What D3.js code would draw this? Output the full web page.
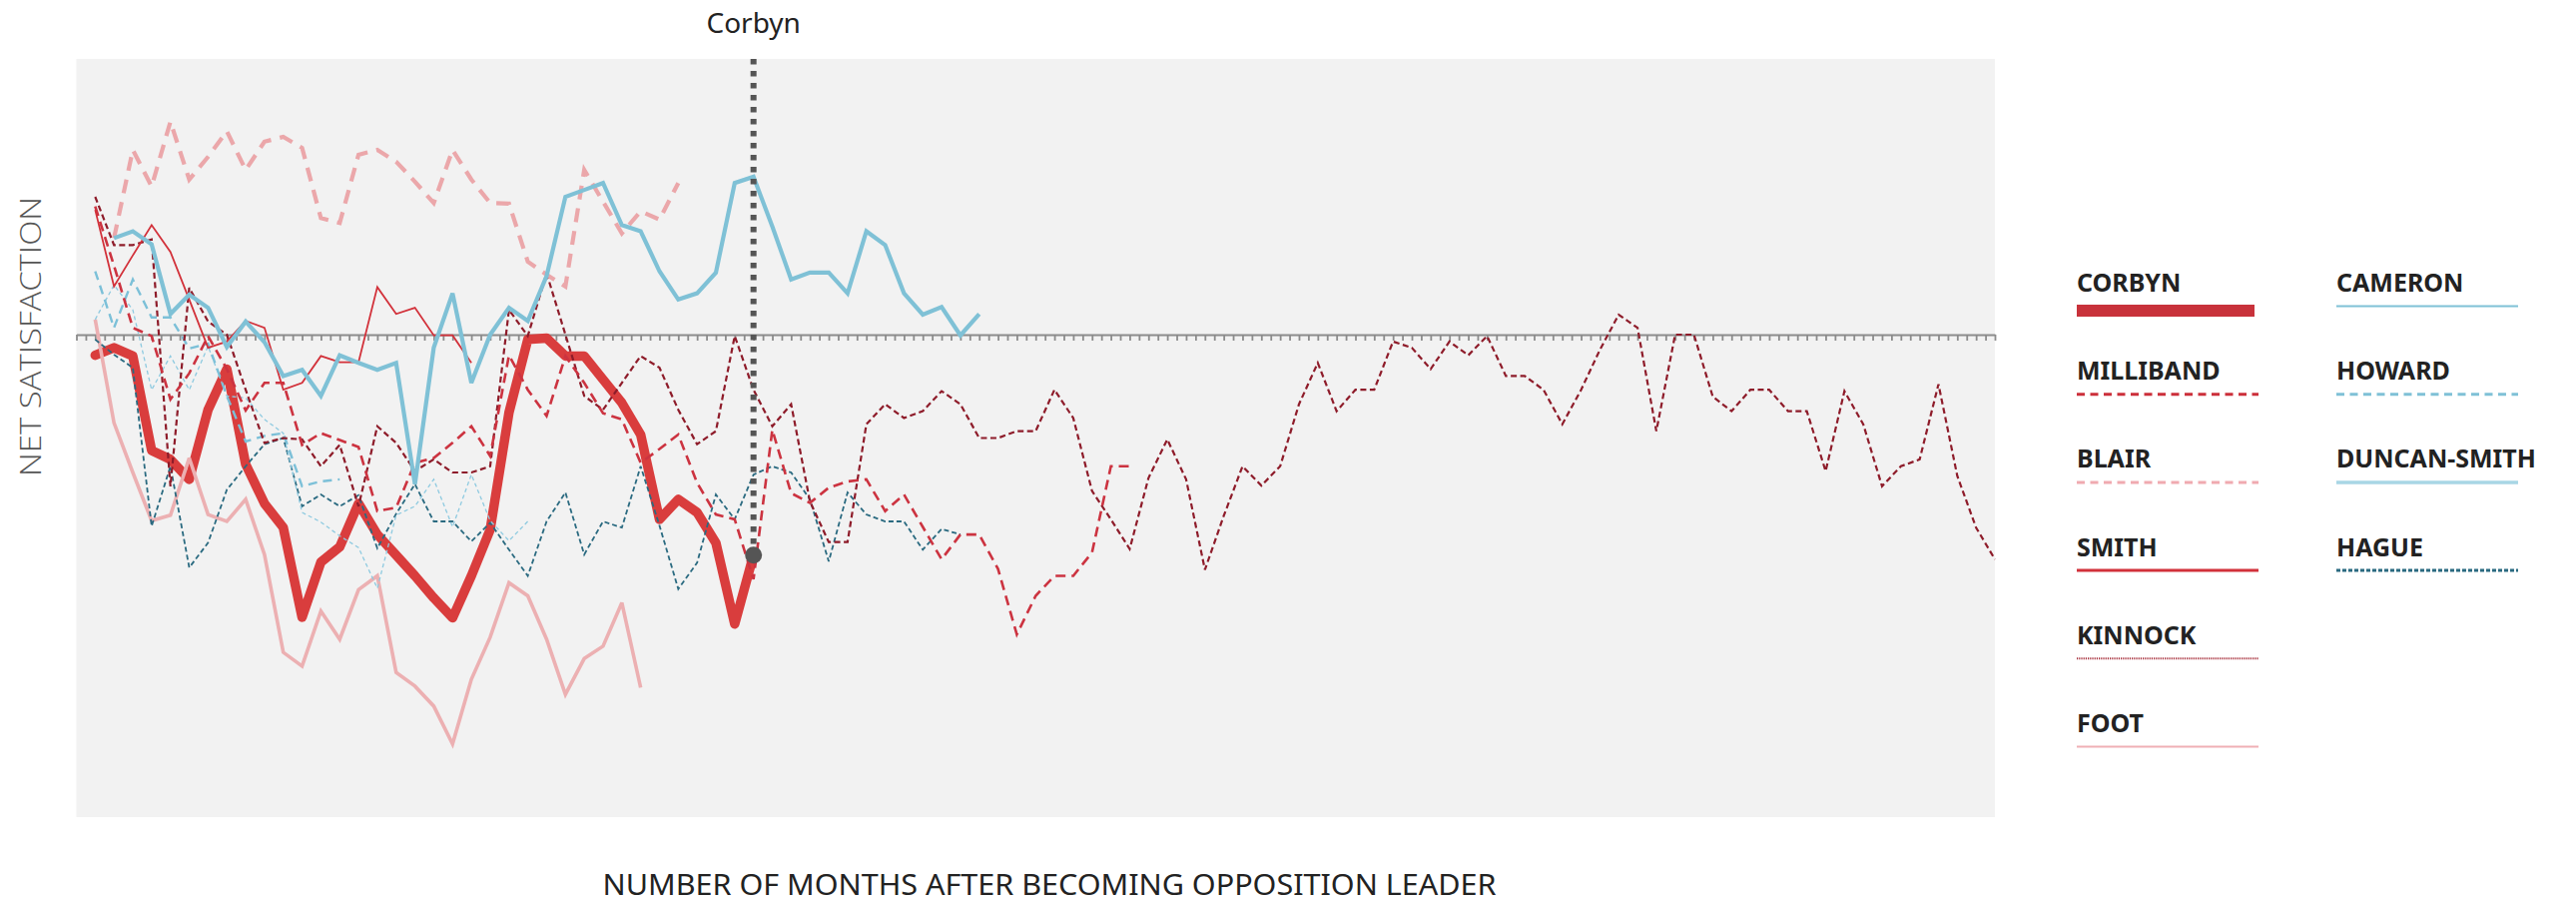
<!DOCTYPE html>
<html>
<head>
<meta charset="utf-8">
<script src="https://cdn.jsdelivr.net/npm/d3@7"></script>
<style>
  html, body { margin: 0; padding: 0; background: #ffffff; }
  svg { display: block; }
</style>
</head>
<body>
<svg id="chart" width="2580" height="906"></svg>
<script>
// ---------------- DATA ----------------
const leaders = ["CORBYN", "MILLIBAND", "BLAIR", "SMITH", "KINNOCK", "FOOT",
                 "CAMERON", "HOWARD", "DUNCAN-SMITH", "HAGUE"];

// first month index of each series (months after becoming opposition leader)
const startMonths = [0, 0, 1, 0, 0, 0, 1, 0, 0, 0];

const corbyn = [-3.0, -1.9, -3.1, -16.8, -18.1, -21.0, -10.9, -5.0, -18.8, -24.5,
  -28.0, -41.0, -33.0, -30.8, -24.5, -29.0, -32.0, -35.0, -38.2, -41.1,
  -35.0, -28.3, -11.3, -0.7, -0.5, -3.1, -3.1, -6.5, -9.9, -14.5,
  -26.8, -23.9, -25.8, -30.2, -42.0, -32.0];

const milliband = [18.6, 10.0, 1.0, -0.2, -9.4, -5.6, -0.2, -5.0, -11.0, -7.0,
  -7.0, -16.0, -14.3, -15.3, -16.3, -25.6, -25.1, -18.6, -17.9, -15.7,
  -13.3, -17.6, -3.0, -8.0, -11.8, -3.1, -7.0, -11.4, -12.3, -18.6,
  -16.6, -14.5, -21.5, -26.1, -26.8, -35.5, -13.8, -23.0, -24.4, -22.2,
  -21.3, -21.0, -25.6, -23.2, -27.9, -32.6, -29.0, -29.0, -34.0, -43.5,
  -37.9, -35.0, -35.0, -31.6, -19.1, -19.1];

const blair = [14.0, 26.8, 21.5, 30.9, 22.5, 25.8, 29.5, 23.9, 28.0, 28.7,
  27.1, 16.9, 16.2, 26.1, 26.8, 25.1, 22.2, 19.1, 26.8, 22.5,
  19.1, 19.0, 10.6, 8.7, 7.0, 23.9, 19.3, 14.7, 17.9, 16.7, 22.0];

const smith = [18.1, 7.0, 11.5, 15.9, 12.0, 5.1, -1.9, -1.0, 2.0, 1.0,
  -8.0, -7.0, -3.1, -4.0, -4.0, 6.9, 3.0, 3.9, -0.1, -0.1, -4.1];

const kinnock = [20.0, 13.0, 13.0, 13.8, -22.0, 6.8, 1.9, 0.0, -8.0, -15.7,
  -15.0, -15.2, -19.1, -16.0, -24.9, -13.3, -15.7, -19.8, -18.1, -20.0,
  -20.0, -19.1, 3.6, -0.2, 8.9, 0.0, -8.9, -10.9, -7.0, -3.1,
  -4.8, -10.9, -15.9, -14.0, -0.2, -8.0, -13.3, -10.1, -24.2, -30.1,
  -30.1, -13.0, -10.1, -12.1, -11.1, -8.2, -10.1, -15.0, -15.0, -14.0,
  -14.0, -8.0, -12.1, -22.7, -26.8, -31.1, -20.8, -15.2, -21.0, -34.1,
  -26.3, -19.1, -21.9, -19.1, -10.1, -4.1, -11.1, -8.0, -8.0, -1.0,
  -1.9, -5.0, -1.0, -3.0, -0.2, -6.0, -6.0, -8.0, -13.0, -8.0,
  -2.2, 2.9, 1.0, -14.0, 0.0, 0.0, -9.0, -11.1, -8.0, -8.0,
  -11.1, -11.1, -19.8, -8.2, -13.0, -22.0, -19.1, -18.1, -7.2, -20.5,
  -28.0, -32.6];

const foot = [2.2, -12.8, -20.0, -27.0, -26.2, -17.9, -26.1, -27.1, -23.9, -31.9,
  -46.1, -48.1, -40.1, -44.2, -37.0, -35.0, -49.0, -51.0, -53.9, -59.4,
  -50.0, -43.9, -36.0, -37.9, -44.2, -52.2, -47.0, -45.2, -38.9, -51.2];

const cameron = [14.0, 15.0, 13.1, 3.0, 5.8, 3.9, -1.8, 1.9, -1.1, -6.0,
  -5.1, -8.9, -3.0, -4.1, -5.1, -4.1, -21.7, -1.9, 6.0, -7.0,
  0.0, 3.9, 2.0, 8.5, 20.0, 21.0, 22.0, 15.9, 15.0, 9.2,
  5.1, 6.0, 9.0, 22.0, 22.9, 15.7, 8.0, 9.0, 9.0, 6.0,
  15.0, 13.0, 6.0, 2.9, 4.0, -0.1, 3.0];

const howard = [9.2, 1.0, 8.0, 2.5, 2.5, -2.0, -1.3, -8.9, -15.5, -14.7,
  -14.3, -22.0, -21.3, -21.0];

const duncanSmith = [2.2, 7.2, 3.6, -8.0, -3.1, -8.0, -1.7, -8.9, -9.2, -12.3,
  -14.3, -25.8, -27.2, -29.2, -30.9, -36.8, -26.2, -24.9, -21.0, -27.9,
  -20.3, -27.0, -29.9, -27.1];

const hague = [-0.7, -2.9, -4.8, -27.8, -19.1, -33.8, -30.2, -22.5, -19.1, -15.9,
  -15.0, -24.9, -23.2, -24.9, -23.3, -31.0, -26.0, -21.7, -27.1, -27.1,
  -30.0, -27.3, -31.2, -35.0, -27.1, -22.9, -31.9, -27.1, -28.0, -19.1,
  -27.7, -36.9, -33.1, -23.2, -26.8, -20.3, -19.1, -20.0, -23.9, -32.9,
  -22.9, -26.1, -27.1, -27.1, -31.2, -28.2, -29.0];

const seriesValues = [corbyn, milliband, blair, smith, kinnock, foot,
                      cameron, howard, duncanSmith, hague];

const monthDomain = [-1, 101];
const satisfactionDomain = [-70, 40];
const monthTicks = d3.range(-1, 101.001, 0.5);
const highlightLabel = "Corbyn";
const xTitle = "NUMBER OF MONTHS AFTER BECOMING OPPOSITION LEADER";
const yTitle = "NET SATISFACTION";

// ---------------- STYLES ----------------
const lineStyles = {
  "CORBYN":       {color: "#d93d3d", width: 9.5, dash: null,   cap: "round"},
  "MILLIBAND":    {color: "#cc3340", width: 2.6, dash: "10,6", cap: "butt"},
  "BLAIR":        {color: "#eba7aa", width: 4.2, dash: "14,9", cap: "butt"},
  "SMITH":        {color: "#d2313a", width: 1.8, dash: null,   cap: "butt"},
  "KINNOCK":      {color: "#8e1c2a", width: 2.2, dash: "6,3.5", cap: "butt"},
  "FOOT":         {color: "#ecb0b2", width: 3.6, dash: null,   cap: "butt"},
  "CAMERON":      {color: "#7fc1d6", width: 4.2, dash: null,   cap: "butt"},
  "HOWARD":       {color: "#7cc0d8", width: 2.4, dash: "9,6",  cap: "butt"},
  "DUNCAN-SMITH": {color: "#8ecae0", width: 1.3, dash: "4,3",  cap: "butt"},
  "HAGUE":        {color: "#2a6a80", width: 1.8, dash: "5,3",  cap: "butt"}
};
const legendStyles = {
  "CORBYN":       {color: "#c8323b", width: 12, dash: null},
  "MILLIBAND":    {color: "#cc2f3a", width: 3,  dash: "8,5.5"},
  "BLAIR":        {color: "#f0aab0", width: 3,  dash: "8,5.5"},
  "SMITH":        {color: "#d2313a", width: 3,  dash: null},
  "KINNOCK":      {color: "#a8323e", width: 2,  dash: "1.2,1"},
  "FOOT":         {color: "#f0b0b5", width: 2,  dash: null},
  "CAMERON":      {color: "#7fc1d6", width: 2,  dash: null},
  "HOWARD":       {color: "#7fc1d6", width: 3,  dash: "8,5.5"},
  "DUNCAN-SMITH": {color: "#a8d6e5", width: 3.5, dash: null},
  "HAGUE":        {color: "#2a6a80", width: 3,  dash: "4,2"}
};
const drawOrder = ["CORBYN", "FOOT", "HAGUE", "DUNCAN-SMITH", "HOWARD",
                   "KINNOCK", "MILLIBAND", "SMITH", "BLAIR", "CAMERON"];

// ---------------- CHART ----------------
const svg = d3.select("#chart");
const plot = {left: 76.5, right: 1998, top: 59, bottom: 818};

const x = d3.scaleLinear().domain(monthDomain).range([plot.left, plot.right]);
const y = d3.scaleLinear().domain(satisfactionDomain).range([plot.bottom, plot.top]);

// background panel
svg.append("rect")
  .attr("x", x(monthDomain[0])).attr("y", y(satisfactionDomain[1]))
  .attr("width", x(monthDomain[1]) - x(monthDomain[0]))
  .attr("height", y(satisfactionDomain[0]) - y(satisfactionDomain[1]))
  .attr("fill", "#f2f2f2");

// zero line with monthly ticks
const axis = d3.axisBottom(x).tickValues(monthTicks).tickSize(6).tickSizeOuter(0).tickFormat("");
const axisG = svg.append("g").attr("transform", `translate(0,${y(0)})`).call(axis);
axisG.select(".domain").attr("stroke", "#8c8c8c").attr("stroke-width", 2.2);
axisG.selectAll(".tick line").attr("stroke", "#8c8c8c").attr("stroke-width", 1.8);

// series lines
const lineGen = d3.line().x(d => x(d.m)).y(d => y(d.v)).curve(d3.curveLinear);
const seriesData = leaders.map((name, i) => ({
  name,
  points: seriesValues[i].map((v, j) => ({m: startMonths[i] + j, v}))
}));
const byName = Object.fromEntries(seriesData.map(s => [s.name, s]));

const linesG = svg.append("g");
drawOrder.forEach(name => {
  const s = byName[name];
  const st = lineStyles[name];
  linesG.append("path")
    .datum(s.points)
    .attr("d", lineGen)
    .attr("fill", "none")
    .attr("stroke", st.color)
    .attr("stroke-width", st.width)
    .attr("stroke-linejoin", st.cap === "round" ? "round" : "miter")
    .attr("stroke-miterlimit", 3)
    .attr("stroke-linecap", st.cap)
    .attr("stroke-dasharray", st.dash);
});

// Corbyn marker: vertical dotted line + end dot
const corbynPts = byName["CORBYN"].points;
const last = corbynPts[corbynPts.length - 1];
svg.append("line")
  .attr("x1", x(last.m)).attr("x2", x(last.m))
  .attr("y1", y(satisfactionDomain[1])).attr("y2", y(last.v))
  .attr("stroke", "#555555").attr("stroke-width", 6)
  .attr("stroke-dasharray", "5.5,6.5");
svg.append("circle")
  .attr("cx", x(last.m)).attr("cy", y(last.v)).attr("r", 8.5)
  .attr("fill", "#555555");
svg.append("text")
  .attr("x", x(last.m)).attr("y", 33)
  .attr("text-anchor", "middle")
  .attr("font-family", "'Noto Sans', 'Open Sans', sans-serif")
  .attr("font-size", 28)
  .attr("fill", "#222222")
  .text(highlightLabel);

// axis titles
svg.append("text")
  .attr("x", 1051).attr("y", 896)
  .attr("text-anchor", "middle")
  .attr("font-family", "'Noto Sans', 'Open Sans', sans-serif")
  .attr("font-size", 29)
  .attr("fill", "#222222")
  .attr("textLength", 895)
  .attr("lengthAdjust", "spacingAndGlyphs")
  .text(xTitle);

svg.append("text")
  .attr("transform", `translate(41,${y(0) + 2}) rotate(-90)`)
  .attr("text-anchor", "middle")
  .attr("font-family", "'Open Sans', 'Noto Sans', sans-serif")
  .attr("font-weight", 300)
  .attr("font-size", 30)
  .attr("fill", "#555555")
  .attr("textLength", 280)
  .attr("lengthAdjust", "spacingAndGlyphs")
  .text(yTitle);

// legend
const legendCols = [2080, 2340];
const legendRowsPerCol = 6;
const legend = svg.append("g");
leaders.forEach((name, i) => {
  const col = Math.floor(i / legendRowsPerCol);
  const row = i % legendRowsPerCol;
  const lx = legendCols[col];
  const baseY = 292 + row * 88.2;
  const st = legendStyles[name];
  legend.append("text")
    .attr("x", lx).attr("y", baseY)
    .attr("font-family", "'Noto Sans', 'Open Sans', sans-serif")
    .attr("font-weight", 700)
    .attr("font-size", 25)
    .attr("fill", "#222222")
    .text(name);
  const ly = name === "CORBYN" ? baseY + 19 : baseY + 14.5;
  legend.append("line")
    .attr("x1", lx).attr("x2", lx + (name === "CORBYN" ? 178 : 182))
    .attr("y1", ly).attr("y2", ly)
    .attr("stroke", st.color)
    .attr("stroke-width", st.width)
    .attr("stroke-dasharray", st.dash);
});
</script>
</body>
</html>
